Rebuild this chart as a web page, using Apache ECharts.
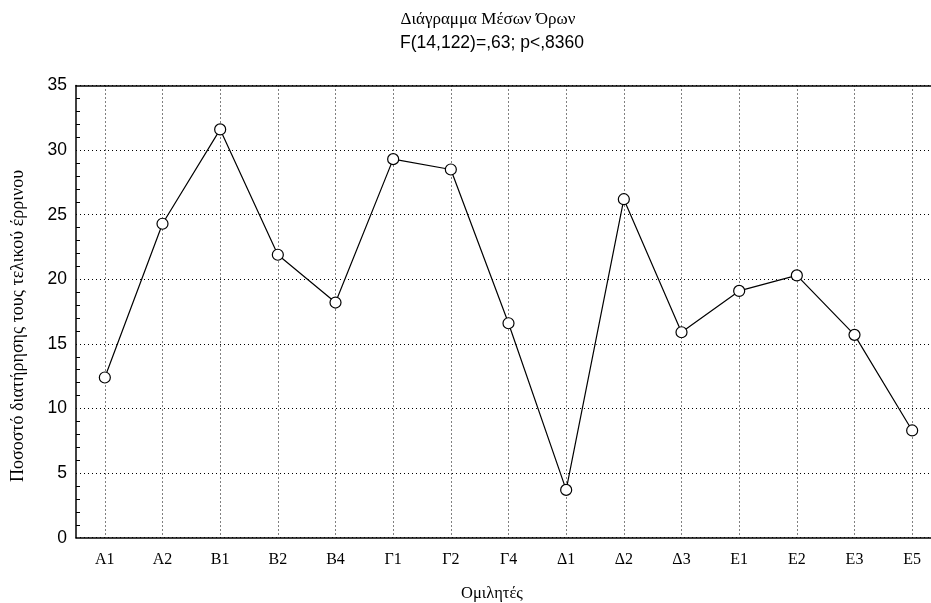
<!DOCTYPE html>
<html>
<head>
<meta charset="utf-8">
<script src="https://cdn.jsdelivr.net/npm/echarts@6/dist/echarts.min.js"></script>
<style>html,body{margin:0;padding:0;background:#fff}#c{width:931px;height:603px}</style>
</head>
<body>
<div id="c"></div>
<script>
const categories = ['A1','A2','B1','B2','B4','Γ1','Γ2','Γ4','Δ1','Δ2','Δ3','E1','E2','E3','E5'];
const means = [12.4, 24.3, 31.6, 21.9, 18.2, 29.3, 28.5, 16.6, 3.7, 26.2, 15.9, 19.1, 20.3, 15.7, 8.3];
const yTicks = [0, 5, 10, 15, 20, 25, 30, 35];
const titleText = 'Διάγραμμα Μέσων Όρων';
const subtitleText = 'F(14,122)=,63; p<,8360';
const xName = 'Ομιλητές';
const yName = 'Ποσοστό διατήρησης τους τελικού έρρινου';

const chart = echarts.init(document.getElementById('c'));
const dotted = {color: '#000', width: 1, type: [1, 3]};
chart.setOption({
  animation: false,
  backgroundColor: '#fff',
  title: [
    {text: titleText, left: 483, top: 6, textAlign: 'center',
     textStyle: {fontFamily: 'Liberation Serif', fontWeight: 'normal', fontSize: 17, color: '#000'}},
    {text: subtitleText, left: 487, top: 29, textAlign: 'center',
     textStyle: {fontFamily: 'Liberation Sans', fontWeight: 'normal', fontSize: 17.5, color: '#000'}}
  ],
  graphic: [
    {type: 'text', x: 18.5, y: 326, rotation: Math.PI / 2,
     style: {text: yName, fontFamily: 'Liberation Serif', fontSize: 18, fill: '#000', align: 'center', verticalAlign: 'middle'}},
    {type: 'text', x: 492, y: 594,
     style: {text: xName, fontFamily: 'Liberation Serif', fontSize: 16.5, fill: '#000', align: 'center', verticalAlign: 'middle'}}
  ],
  grid: {left: 76, top: 85.5, width: 865, height: 452.2, containLabel: false, outerBoundsMode: 'none'},
  xAxis: [{
    type: 'category', data: categories, boundaryGap: true,
    axisLine: {lineStyle: {color: '#000', width: 1.5}},
    axisTick: {show: false, alignWithLabel: true},
    axisLabel: {fontFamily: 'Liberation Serif', fontSize: 16, color: '#000', margin: 14},
    splitLine: {show: true, alignWithLabel: true, lineStyle: dotted}
  }, {
    type: 'category', data: categories, position: 'top',
    axisLine: {show: true, lineStyle: {color: '#000', width: 1.5}},
    axisTick: {show: false}, axisLabel: {show: false}, splitLine: {show: false}
  }],
  yAxis: {
    type: 'value', min: yTicks[0], max: yTicks[yTicks.length - 1], interval: 5,
    axisLine: {show: true, lineStyle: {color: '#000', width: 1.5}},
    axisTick: {show: false},
    minorTick: {show: true, splitNumber: 5, length: -4, lineStyle: {color: '#000', width: 1}},
    axisLabel: {fontFamily: 'Liberation Sans', fontSize: 17.5, color: '#000', margin: 9},
    splitLine: {show: true, lineStyle: dotted}
  },
  series: [{
    type: 'line', data: means,
    symbol: 'circle', symbolSize: 11, showAllSymbol: true,
    itemStyle: {color: '#fff', borderColor: '#000', borderWidth: 1.2},
    lineStyle: {color: '#000', width: 1.2}
  }]
});
</script>
</body>
</html>
